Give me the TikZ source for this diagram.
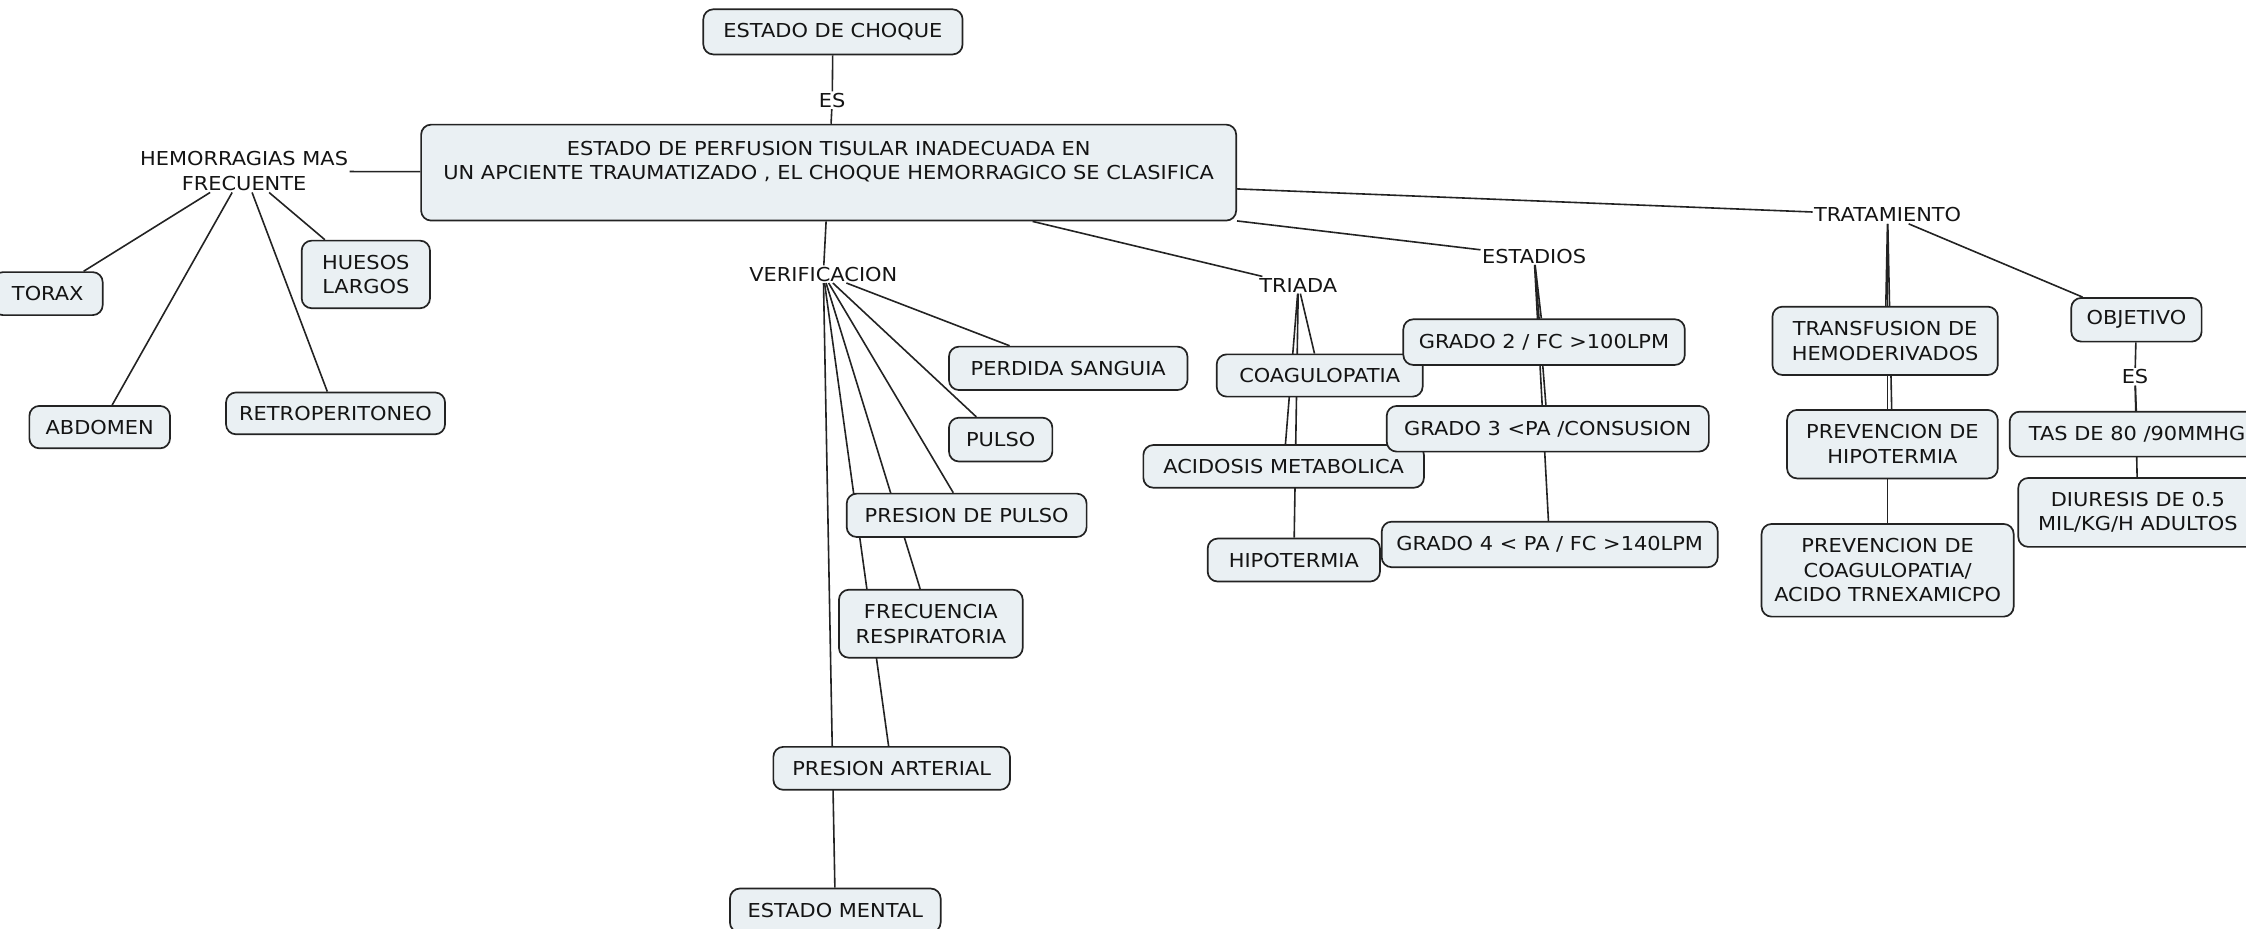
\documentclass[tikz,border=0pt]{standalone}
\usepackage{fontspec}
\setmainfont{DejaVu Sans}[FakeStretch=1.09]
\usetikzlibrary{backgrounds}
\definecolor{boxfill}{RGB}{234,240,243}
\definecolor{boxline}{RGB}{35,35,35}
\definecolor{txt}{RGB}{20,20,20}
\newcommand\cbox[6]{\node[concept, minimum width={((#4)-(#2))*0.7162pt}, minimum height={((#5)-(#3))*0.7162pt}] (#1) at ({((#2)+(#4))/2},{((#3)+(#5))/2}) {#6};}
\begin{document}
\begin{tikzpicture}[x=0.7162pt, y=-0.7162pt,
  concept/.style={draw=boxline, line width=0.85pt, fill=boxfill, rounded corners=5pt, inner sep=0pt, align=center, text=txt, font=\fontsize{9.6}{12.3}\selectfont},
  phrase/.style={inner sep=0.6pt, align=center, text=txt, font=\fontsize{9.6}{12.3}\selectfont},
  conn/.style={draw=boxline, line width=0.8pt}]
\path[use as bounding box] (0,0) rectangle (1568,648);
\clip (0,0) rectangle (1568,648);

\cbox{choque}{491}{6.5}{672}{38}{ESTADO DE CHOQUE}
\node[phrase] (es1) at (581,70) {ES};
\cbox{main}{294}{87}{863}{154}{ESTADO DE PERFUSION TISULAR INADECUADA EN\\UN APCIENTE TRAUMATIZADO , EL CHOQUE HEMORRAGICO SE CLASIFICA\\\mbox{}}

\node[phrase] (hem) at (170.4,119.6) {HEMORRAGIAS MAS\\FRECUENTE};
\cbox{torax}{-5}{190}{71.7}{220}{TORAX}
\cbox{huesos}{210.6}{168}{300.2}{215.2}{HUESOS\\LARGOS}
\cbox{abdomen}{20.5}{283.4}{118.7}{313}{ABDOMEN}
\cbox{retro}{157.8}{274}{310.7}{303.2}{RETROPERITONEO}

\node[phrase] (verif) at (574.8,191.4) {VERIFICACION};
\cbox{perdida}{662.5}{242}{829}{272.3}{PERDIDA SANGUIA}
\cbox{pulso}{662.5}{291.6}{734.7}{322.2}{PULSO}
\cbox{ppulso}{591.1}{344.6}{758.6}{374.9}{PRESION DE PULSO}
\cbox{frec}{585.7}{411.7}{714}{459.2}{FRECUENCIA\\RESPIRATORIA}
\cbox{parter}{539.9}{521.4}{705.1}{551.4}{PRESION ARTERIAL}
\cbox{mental}{509.6}{620.3}{656.7}{651}{ESTADO MENTAL}

\node[phrase] (triada) at (906.4,199) {TRIADA};
\cbox{coag}{849.4}{247.4}{993.2}{276.9}{COAGULOPATIA}
\cbox{acid}{798.2}{310.7}{994.1}{340.5}{ACIDOSIS METABOLICA}
\cbox{hipo}{843.1}{376}{963.4}{406}{HIPOTERMIA}

\node[phrase] (estadios) at (1071,178.8) {ESTADIOS};
\cbox{g2}{979.7}{222.9}{1176.2}{254.8}{GRADO 2 / FC >100LPM}
\cbox{g3}{968.1}{283.4}{1193}{315.3}{GRADO 3 <PA /CONSUSION}
\cbox{g4}{964.6}{364.2}{1199.2}{396}{GRADO 4 < PA / FC >140LPM}

\node[phrase] (trat) at (1317.8,150.1) {TRATAMIENTO};
\cbox{transf}{1237.4}{214.1}{1394.7}{261.8}{TRANSFUSION DE\\HEMODERIVADOS}
\cbox{prevhip}{1247.6}{286.2}{1394.7}{334}{PREVENCION DE\\HIPOTERMIA}
\cbox{prevcoag}{1229.8}{365.8}{1405.8}{430.5}{PREVENCION DE\\COAGULOPATIA/\\ACIDO TRNEXAMICPO}
\cbox{objetivo}{1446}{208}{1537}{238.5}{OBJETIVO}
\node[phrase] (es2) at (1490.5,263) {ES};
\cbox{tas}{1403}{287.4}{1581}{318.8}{TAS DE 80 /90MMHG}
\cbox{diuresis}{1409}{333.7}{1576}{381.8}{DIURESIS DE 0.5\\MIL/KG/H ADULTOS}

\begin{pgfonlayer}{background}
\draw[conn] (choque) -- (es1);
\draw[conn] (es1) -- (main);
\draw[conn] (hem) -- (main);
\foreach \t in {torax,abdomen,retro,huesos} \draw[conn] (hem) -- (\t);
\draw[conn] (main) -- (verif);
\foreach \t in {perdida,pulso,ppulso,frec,parter,mental} \draw[conn] (verif) -- (\t);
\draw[conn] (main) -- (triada);
\foreach \t in {coag,acid,hipo} \draw[conn] (triada) -- (\t);
\draw[conn] (main) -- (estadios);
\foreach \t in {g2,g3,g4} \draw[conn] (estadios) -- (\t);
\draw[conn] (main) -- (trat);
\foreach \t in {transf,prevhip,prevcoag,objetivo} \draw[conn] (trat) -- (\t);
\draw[conn] (objetivo) -- (es2);
\draw[conn] (es2) -- (tas);
\draw[conn] (es2) -- (diuresis);
\end{pgfonlayer}
\end{tikzpicture}
\end{document}
